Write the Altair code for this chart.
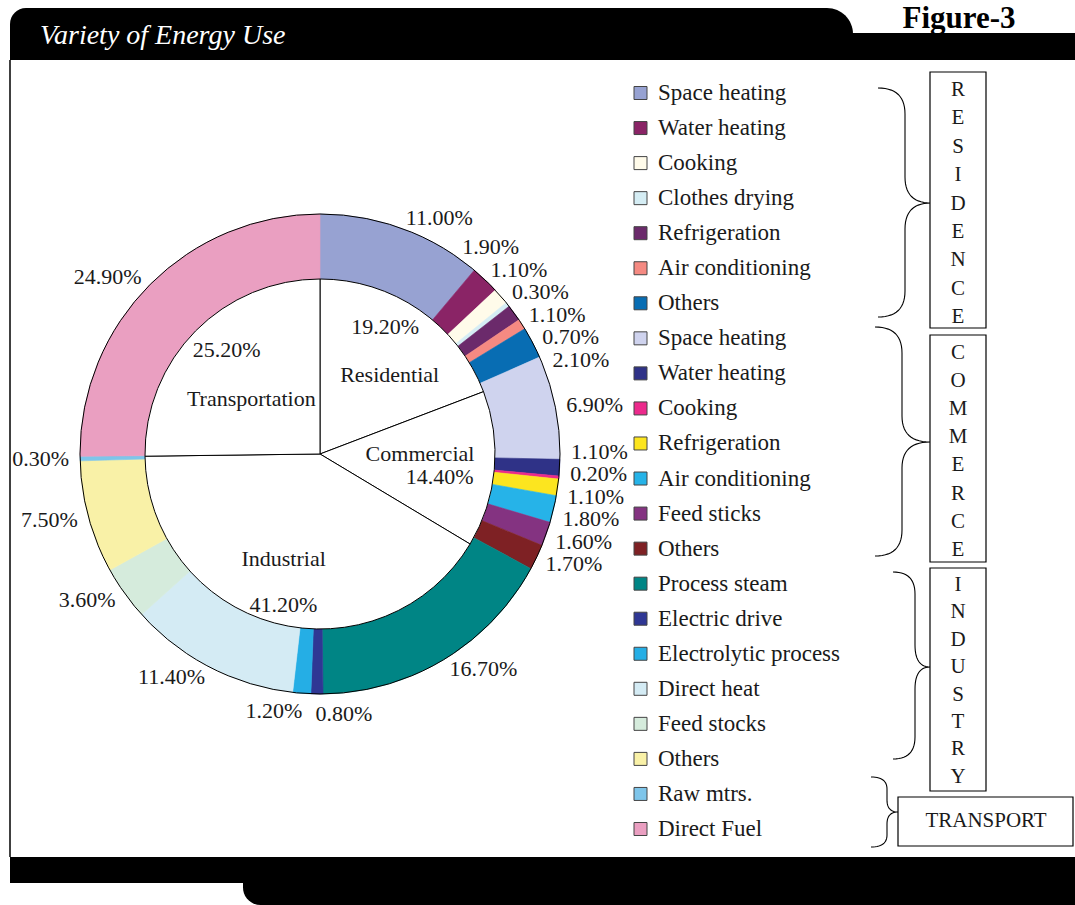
import math

import altair as alt
import pandas as pd

# ---------------------------------------------------------------- data
# Inner pie: share of total energy use by sector (%)
SECTORS = ["Residential", "Commercial", "Industrial", "Transportation"]
SECTOR_SHARE = [19.2, 14.4, 41.2, 25.2]

# Outer ring: end uses inside each sector (%), clockwise from 12 o'clock
RES_USES = ["Space heating", "Water heating", "Cooking", "Clothes drying",
            "Refrigeration", "Air conditioning", "Others"]
RES_SHARE = [11.0, 1.9, 1.1, 0.3, 1.1, 0.7, 2.1]

COM_USES = ["Space heating", "Water heating", "Cooking", "Refrigeration",
            "Air conditioning", "Feed sticks", "Others"]
COM_SHARE = [6.9, 1.1, 0.2, 1.1, 1.8, 1.6, 1.7]

IND_USES = ["Process steam", "Electric drive", "Electrolytic process",
            "Direct heat", "Feed stocks", "Others"]
IND_SHARE = [16.7, 0.8, 1.2, 11.4, 3.6, 7.5]

TRA_USES = ["Raw mtrs.", "Direct Fuel"]
TRA_SHARE = [0.3, 24.9]

# ---------------------------------------------------------------- styles
RES_COLORS = ["#97A2D2", "#8A2466", "#FFFBEA", "#D5EDF4", "#6B2A6B", "#F58A82", "#086DB3"]
COM_COLORS = ["#CFD3EE", "#2F3287", "#EC2A8C", "#FCE51F", "#26B3E8", "#843381", "#7E2124"]
IND_COLORS = ["#008585", "#2F3794", "#25AEE5", "#D4EBF4", "#D5EBDC", "#F9F1A7"]
TRA_COLORS = ["#7EC5EA", "#EA9FC1"]

GROUP_WORDS = ["RESIDENCE", "COMMERCE", "INDUSTRY", "TRANSPORT"]

W, H = 1075, 905
CX, CY = 320, 454          # pie centre
R_OUT, R_IN = 240, 175     # ring radii
R_LABEL = 251              # anchor radius of the ring labels
FONT = "Liberation Serif"
INK = "#1a1a1a"

# name / value label placement inside the pie: (radius px, turn deg from mid-angle)
INNER_NAME_POLAR = [(105, 7), (100, -5), (111, 4), (88, -6)]
INNER_VALUE_POLAR = [(143, -7.5), (122, 6), (155, -1.5), (140, 3.5)]

XS = alt.Scale(domain=[0, W], range=[0, W])
YS = alt.Scale(domain=[0, H], range=[0, H])
ONE = pd.DataFrame({"k": [0]})

# ---------------------------------------------------------------- tables
groups = [
    ("Residence", RES_USES, RES_SHARE, RES_COLORS),
    ("Commerce", COM_USES, COM_SHARE, COM_COLORS),
    ("Industry", IND_USES, IND_SHARE, IND_COLORS),
    ("Transport", TRA_USES, TRA_SHARE, TRA_COLORS),
]
rows = []
for g, uses, shares, cols in groups:
    for u, s, c in zip(uses, shares, cols):
        rows.append({"key": f"{g}|{u}", "group": g, "use": u, "share": s, "color": c})
ring = pd.DataFrame(rows)
ring["idx"] = range(len(ring))
ring["label"] = ring["share"].map(lambda v: f"{v:.2f}%")
total = ring["share"].sum()
cum = ring["share"].cumsum()
ring["mid"] = (cum - ring["share"] / 2) / total * 2 * math.pi

color_scale = alt.Scale(domain=list(ring["key"]), range=list(ring["color"]))

inner = pd.DataFrame({"sector": SECTORS, "share": SECTOR_SHARE})
inner["idx"] = range(len(inner))
inner["label"] = inner["share"].map(lambda v: f"{v:.2f}%")
icum = inner["share"].cumsum()
inner_mid = (icum - inner["share"] / 2) / inner["share"].sum() * 2 * math.pi
inner["name_ang"] = [m + math.radians(t) for m, (_, t) in zip(inner_mid, INNER_NAME_POLAR)]
inner["name_r"] = [r for r, _ in INNER_NAME_POLAR]
inner["val_ang"] = [m + math.radians(t) for m, (_, t) in zip(inner_mid, INNER_VALUE_POLAR)]
inner["val_r"] = [r for r, _ in INNER_VALUE_POLAR]


# ---------------------------------------------------------------- ring label layout
def spread(vals, gap, lo, hi):
    """Push sorted positions apart until neighbours are at least `gap` apart."""
    order = sorted(range(len(vals)), key=lambda i: vals[i])
    v = [vals[i] for i in order]
    for _ in range(400):
        for i in range(1, len(v)):
            d = v[i] - v[i - 1]
            if d < gap:
                s = (gap - d) / 2
                v[i - 1] -= s
                v[i] += s
    v = [min(max(t, lo), hi) for t in v]
    out = [0.0] * len(vals)
    for k, i in enumerate(order):
        out[i] = v[k]
    return out


def side_of(a):
    d = math.degrees(a)
    if 165 < d < 195:
        return "bottom"
    return "right" if d <= 165 else "left"


ring["side"] = ring["mid"].map(side_of)
ring["ang"] = ring["mid"]
for s in ["right", "left"]:
    m = ring["side"] == s
    yrel = [-R_LABEL * math.cos(a) for a in ring.loc[m, "mid"]]
    ys = spread(yrel, 22.5, -R_LABEL, R_LABEL)
    base = [math.acos(max(-1.0, min(1.0, -y / R_LABEL))) for y in ys]
    if s == "left":
        base = [2 * math.pi - b for b in base]
    ring.loc[m, "ang"] = base
m = ring["side"] == "bottom"
xrel = [R_LABEL * math.sin(a) for a in ring.loc[m, "mid"]]
xs = spread(xrel, 70, -R_LABEL, R_LABEL)
ring.loc[m, "ang"] = [math.pi - math.asin(max(-1.0, min(1.0, x / R_LABEL))) for x in xs]

# ---------------------------------------------------------------- legend table
legend = ring[["key", "use"]].copy()
legend["row"] = range(len(legend))
legend["ypx"] = 93 + legend["row"] * (829 - 93) / (len(legend) - 1)

# ---------------------------------------------------------------- frame
def block(x0, x1, y0, y1, **kw):
    return alt.Chart(ONE).mark_rect(color="black", **kw).encode(
        x=alt.value(x0), x2=alt.value(x1), y=alt.value(y0), y2=alt.value(y1))


frame = [
    block(10, 853, 8, 60, cornerRadiusTopLeft=16, cornerRadiusTopRight=26),
    block(840, W, 33, 60),
    block(10, W, 857, 883),
    block(243, W, 870, H, cornerRadiusBottomLeft=22),
    alt.Chart(ONE).mark_rule(color="black", strokeWidth=1.5).encode(
        x=alt.value(10), y=alt.value(60), y2=alt.value(857)),
]

title = alt.Chart(ONE).mark_text(
    text="Variety of Energy Use", font=FONT, fontSize=28, fontStyle="italic",
    color="white", align="left", baseline="middle").encode(x=alt.value(40), y=alt.value(36))
fig = alt.Chart(ONE).mark_text(
    text="Figure-3", font=FONT, fontSize=31, fontWeight="bold",
    color="black", align="center", baseline="middle").encode(x=alt.value(959), y=alt.value(19))

# ---------------------------------------------------------------- pie + ring
ring_arcs = alt.Chart(ring).mark_arc(radius=R_OUT, radius2=R_IN, strokeWidth=0.6).encode(
    x=alt.value(CX), y=alt.value(CY),
    theta=alt.Theta("share:Q", stack=True),
    order=alt.Order("idx:Q"),
    color=alt.Color("key:N", scale=color_scale, legend=None),
    stroke=alt.Stroke("key:N", scale=color_scale, legend=None),
)

pie = alt.Chart(inner).mark_arc(radius=R_IN, fill="white", stroke="black", strokeWidth=1).encode(
    x=alt.value(CX), y=alt.value(CY),
    theta=alt.Theta("share:Q", stack=True),
    order=alt.Order("idx:Q"),
    detail="sector:N",
)

outline = alt.Chart(ONE).mark_arc(
    radius=R_OUT, theta=0, theta2=2 * math.pi, fillOpacity=0, stroke="black", strokeWidth=1
).encode(x=alt.value(CX), y=alt.value(CY))


def ring_labels(side, align, baseline):
    return alt.Chart(ring[ring["side"] == side]).mark_text(
        radius=R_LABEL, align=align, baseline=baseline, font=FONT, fontSize=22, color=INK
    ).encode(
        x=alt.value(CX), y=alt.value(CY),
        theta=alt.Theta("ang:Q", scale=None),
        text="label:N",
    )


labels = [
    ring_labels("right", "left", "middle"),
    ring_labels("left", "right", "middle"),
    ring_labels("bottom", "center", "top"),
]

inner_names = alt.Chart(inner).mark_text(
    align="center", baseline="middle", font=FONT, fontSize=22, color=INK).encode(
    x=alt.value(CX), y=alt.value(CY),
    theta=alt.Theta("name_ang:Q", scale=None),
    radius=alt.Radius("name_r:Q", scale=None),
    text="sector:N",
)
inner_values = alt.Chart(inner).mark_text(
    align="center", baseline="middle", font=FONT, fontSize=22, color=INK).encode(
    x=alt.value(CX), y=alt.value(CY),
    theta=alt.Theta("val_ang:Q", scale=None),
    radius=alt.Radius("val_r:Q", scale=None),
    text="label:N",
)

# ---------------------------------------------------------------- legend
legend_marks = alt.Chart(legend).mark_square(
    size=169, opacity=1, stroke="#444", strokeWidth=1).encode(
    x=alt.value(640.5),
    y=alt.Y("ypx:Q", scale=YS, axis=None),
    color=alt.Color("key:N", scale=color_scale, legend=None),
)
legend_text = alt.Chart(legend).mark_text(
    align="left", baseline="middle", font=FONT, fontSize=23, color=INK).encode(
    x=alt.value(658),
    y=alt.Y("ypx:Q", scale=YS, axis=None),
    text="use:N",
)


# ---------------------------------------------------------------- braces and boxes
def brace(name, x0, xb, xt, ytop, ymid, ybot, k):
    def quad(p0, c, p1, n=14):
        return [((1 - t) ** 2 * p0[0] + 2 * (1 - t) * t * c[0] + t ** 2 * p1[0],
                 (1 - t) ** 2 * p0[1] + 2 * (1 - t) * t * c[1] + t ** 2 * p1[1])
                for t in [i / n for i in range(n + 1)]]
    pts = []
    pts += quad((x0, ytop), (xb, ytop), (xb, ytop + k))
    pts += quad((xb, ymid - k), (xb, ymid), (xt, ymid))
    pts += quad((xt, ymid), (xb, ymid), (xb, ymid + k))
    pts += quad((xb, ybot - k), (xb, ybot), (x0, ybot))
    return [{"brace": name, "step": i, "x": x, "y": y} for i, (x, y) in enumerate(pts)]


brace_rows = (
    brace("Residence", 878, 905, 931, 88, 203, 317, 26)
    + brace("Commerce", 875, 902, 930, 327, 442, 556, 26)
    + brace("Industry", 893, 915, 930, 572, 667, 759, 22)
    + brace("Transport", 871, 887, 898, 777, 812, 847, 12)
)
braces = alt.Chart(pd.DataFrame(brace_rows)).mark_line(color="black", strokeWidth=1.1).encode(
    x=alt.X("x:Q", scale=XS, axis=None),
    y=alt.Y("y:Q", scale=YS, axis=None),
    detail="brace:N",
    order="step:Q",
)

boxes_df = pd.DataFrame({
    "word": GROUP_WORDS,
    "x0": [930, 930, 930, 898], "x1": [986, 986, 986, 1073],
    "y0": [72, 335, 568, 797], "y1": [328, 562, 791, 846],
})
boxes = alt.Chart(boxes_df).mark_rect(fill="white", stroke="black", strokeWidth=1.2).encode(
    x=alt.X("x0:Q", scale=XS, axis=None), x2="x1:Q",
    y=alt.Y("y0:Q", scale=YS, axis=None), y2="y1:Q",
)


def stacked_word(word, y_first, step):
    # one letter per line, first line anchored at y_first
    return alt.Chart(ONE).mark_text(
        text=list(word), lineHeight=step, font=FONT, fontSize=21, color=INK,
        align="center", baseline="middle").encode(x=alt.value(958), y=alt.value(y_first))


words = [
    stacked_word(GROUP_WORDS[0], 90, 28.4),
    stacked_word(GROUP_WORDS[1], 353, 28.1),
    stacked_word(GROUP_WORDS[2], 585, 27.4),
    alt.Chart(ONE).mark_text(
        text=GROUP_WORDS[3], font=FONT, fontSize=21, color=INK,
        align="center", baseline="middle").encode(x=alt.value(986), y=alt.value(821)),
]

chart = alt.layer(
    *frame, title, fig,
    ring_arcs, pie, outline, *labels, inner_names, inner_values,
    legend_marks, legend_text, braces, boxes, *words,
).resolve_scale(theta="independent").properties(
    width=W, height=H, padding=0, autosize="none", background="white",
).configure_view(stroke=None)

chart.save("out.html", embed_options={"renderer": "svg", "actions": False})
